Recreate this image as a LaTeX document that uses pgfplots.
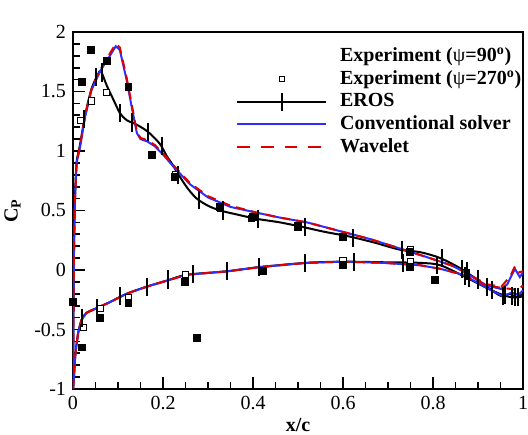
\documentclass[border=0pt]{standalone}
\usepackage{fontspec}
\setmainfont{Liberation Serif}
\usepackage{pgfplots}
\pgfplotsset{compat=1.18}
\definecolor{cblue}{RGB}{45,45,255}
\definecolor{cred}{RGB}{220,0,0}
\begin{document}
\fontsize{11}{13}\selectfont
\begin{tikzpicture}
\begin{axis}[
 scale only axis, width=247.5pt, height=196.35pt,
 xmin=0, xmax=1, ymin=-1, ymax=2,
 xtick={0,0.2,0.4,0.6,0.8,1}, xticklabels={0,0.2,0.4,0.6,0.8,1},
 ytick={-1,-0.5,0,0.5,1,1.5,2}, yticklabels={-1,-0.5,0,0.5,1,1.5,2},
 minor x tick num=3, minor y tick num=4,
 tick align=inside, xtick pos=bottom, ytick pos=left,
 major tick length=6.6pt, minor tick length=3.8pt,
 every tick/.style={black, line width=0.9pt},
 axis line style={line width=1.1pt},
 xlabel={\textbf{x/c}}, ylabel={\textbf{C\textsubscript{P}}},
 xlabel style={yshift=3pt},
 legend style={draw=none, fill=none, at={(0.35,0.977)}, anchor=north west,
   font=\bfseries, row sep=-0.7pt, cells={anchor=west},
   /tikz/every odd column/.append style={column sep=5pt}},
 legend cell align=left,
 legend image code/.code={\draw[mark repeat=2,mark phase=2,#1] plot coordinates {(0pt,0pt) (24.5pt,0pt) (49pt,0pt)};},
]
\addlegendimage{empty legend}
\addlegendentry{Experiment ({\mdseries ψ}=90\textsuperscript{o})}
\addlegendimage{only marks, mark=square, mark size=1.4pt, mark options={black, line width=0.5pt}}
\addlegendentry{Experiment ({\mdseries ψ}=270\textsuperscript{o})}
\addlegendimage{black, line width=1.1pt, mark=|, mark size=5pt}
\addlegendentry{EROS}
\addlegendimage{cblue, line width=1.1pt}
\addlegendentry{Conventional solver}
\addlegendimage{cred, line width=1.1pt, dash pattern=on 7pt off 6pt}
\addlegendentry{Wavelet}

% Experiment psi=270 (open squares)
\addplot[forget plot, only marks, mark=square*, mark size=1.7pt, mark options={fill=white, draw=black, line width=0.5pt}] coordinates {
(0.017,1.26) (0.041,1.42) (0.075,1.49) (0.227,0.80) (0.327,0.52) (0.397,0.43) (0.50,0.37) (0.749,0.17)
(0.023,-0.48) (0.06,-0.32) (0.123,-0.23) (0.249,-0.04) (0.60,0.08) (0.749,0.07)
};

% EROS upper
\addplot[forget plot, black, line width=1.1pt, smooth] coordinates {
(0,-1.0) (0.002,0.1) (0.004,0.55) (0.008,0.9) (0.016,1.06) (0.027,1.3) (0.041,1.52) (0.055,1.64) (0.062,1.67)
(0.075,1.55) (0.09,1.43) (0.104,1.32) (0.119,1.26) (0.142,1.22) (0.167,1.16) (0.193,1.06) (0.208,0.96)
(0.222,0.88) (0.238,0.78) (0.256,0.68) (0.275,0.60) (0.30,0.54) (0.327,0.50) (0.36,0.47) (0.408,0.43)
(0.46,0.40) (0.512,0.36) (0.56,0.32) (0.616,0.28) (0.67,0.23) (0.727,0.17) (0.771,0.15) (0.816,0.10)
(0.867,0.00) (0.919,-0.14) (0.952,-0.22) (0.971,-0.20) (0.985,-0.23) (1.0,-0.22)
};
% EROS lower
\addplot[forget plot, black, line width=1.1pt, smooth] coordinates {
(0,-1.0) (0.002,-0.9) (0.005,-0.72) (0.008,-0.62) (0.012,-0.52) (0.019,-0.42) (0.03,-0.36) (0.053,-0.32)
(0.082,-0.27) (0.119,-0.20) (0.164,-0.14) (0.208,-0.09) (0.253,-0.04) (0.34,-0.012) (0.416,0.025)
(0.519,0.06) (0.60,0.07) (0.69,0.065) (0.771,0.06) (0.816,0.04) (0.867,-0.05) (0.919,-0.15) (0.955,-0.21)
(0.98,-0.23) (1.0,-0.2)
};
% EROS bar marks
\addplot[forget plot, only marks, mark=|, mark size=5pt, mark options={black, line width=1.1pt}] coordinates {
(0.025,1.27) (0.05,1.62) (0.064,1.66) (0.104,1.32) (0.13,1.24) (0.167,1.16) (0.197,1.04) (0.233,0.80)
(0.279,0.59) (0.333,0.50) (0.41,0.43) (0.516,0.36) (0.623,0.27) (0.73,0.17) (0.819,0.10) (0.864,0.01)
(0.875,-0.01) (0.90,-0.08) (0.92,-0.14) (0.956,-0.22) (0.982,-0.23) (0.988,-0.23)
(0.021,-0.40) (0.053,-0.32) (0.104,-0.22) (0.165,-0.14) (0.212,-0.08) (0.267,-0.035) (0.342,-0.01)
(0.414,0.025) (0.516,0.06) (0.624,0.07) (0.734,0.06) (0.808,0.045) (0.87,-0.05) (0.88,-0.07) (0.93,-0.17)
(0.96,-0.21) (0.975,-0.22)
};

% Conventional upper
\addplot[forget plot, cblue, line width=1.1pt] coordinates {
(0,-1.0) (0.001,-0.4) (0.002,0.1) (0.004,0.55) (0.008,0.90) (0.016,1.04) (0.027,1.29) (0.041,1.51)
(0.06,1.67) (0.082,1.80) (0.095,1.88) (0.104,1.85) (0.119,1.60) (0.13,1.38) (0.142,1.15) (0.15,1.10)
(0.165,1.08) (0.182,1.04) (0.2,0.97) (0.223,0.87) (0.26,0.72) (0.30,0.61) (0.35,0.53) (0.41,0.48)
(0.46,0.44) (0.52,0.40) (0.6,0.32) (0.66,0.26) (0.727,0.18) (0.793,0.10) (0.84,0.04) (0.867,-0.01)
(0.919,-0.13) (0.952,-0.16) (0.965,-0.12) (0.982,0.01) (0.993,-0.06) (1.0,-0.02)
};
% Conventional lower
\addplot[forget plot, cblue, line width=1.1pt] coordinates {
(0,-1.0) (0.002,-0.9) (0.005,-0.72) (0.008,-0.62) (0.012,-0.52) (0.019,-0.42) (0.03,-0.36) (0.053,-0.32)
(0.082,-0.27) (0.119,-0.20) (0.164,-0.14) (0.208,-0.09) (0.253,-0.04) (0.34,-0.012) (0.416,0.025)
(0.519,0.06) (0.60,0.07) (0.69,0.06) (0.771,0.04) (0.816,0.01) (0.867,-0.04) (0.919,-0.15) (0.955,-0.22)
(0.975,-0.19) (0.99,-0.21) (1.0,-0.17)
};
% Wavelet upper
\addplot[forget plot, cred, line width=1.1pt, dash pattern=on 5pt off 3.5pt] coordinates {
(0,-1.0) (0.001,-0.4) (0.002,0.1) (0.004,0.55) (0.008,0.90) (0.016,1.05) (0.027,1.30) (0.041,1.52)
(0.06,1.68) (0.082,1.82) (0.095,1.90) (0.104,1.87) (0.119,1.62) (0.13,1.40) (0.142,1.16) (0.15,1.11)
(0.165,1.09) (0.182,1.05) (0.2,0.98) (0.223,0.88) (0.26,0.73) (0.30,0.62) (0.35,0.54) (0.41,0.48)
(0.46,0.44) (0.52,0.40) (0.6,0.32) (0.66,0.26) (0.727,0.18) (0.793,0.10) (0.84,0.04) (0.867,-0.01)
(0.919,-0.12) (0.952,-0.14) (0.972,-0.05) (0.982,0.03) (0.992,-0.02) (1.0,-0.01)
};
% Wavelet lower
\addplot[forget plot, cred, line width=1.1pt, dash pattern=on 5pt off 3.5pt] coordinates {
(0,-1.0) (0.002,-0.9) (0.005,-0.72) (0.008,-0.62) (0.012,-0.52) (0.019,-0.42) (0.03,-0.36) (0.053,-0.32)
(0.082,-0.27) (0.119,-0.20) (0.164,-0.14) (0.208,-0.09) (0.253,-0.04) (0.34,-0.012) (0.416,0.025)
(0.519,0.06) (0.60,0.07) (0.69,0.06) (0.771,0.04) (0.816,0.01) (0.867,-0.04) (0.919,-0.13) (0.952,-0.15)
(0.975,-0.16) (0.988,-0.17) (1.0,-0.13)
};

% Experiment psi=90 (filled squares)
\addplot[forget plot, only marks, mark=square*, mark size=1.9pt, mark options={fill=black, draw=black}] coordinates {
(0.019,1.58) (0.039,1.85) (0.076,1.76) (0.123,1.54) (0.175,0.97) (0.227,0.78) (0.327,0.53) (0.40,0.45)
(0.50,0.36) (0.60,0.28) (0.749,0.15)
(0.0,-0.27) (0.019,-0.65) (0.059,-0.40) (0.123,-0.28) (0.249,-0.10) (0.275,-0.57) (0.423,-0.01)
(0.60,0.04) (0.749,0.03) (0.804,-0.08)
};

\node[anchor=base east, font=\bfseries, xshift=-2pt, yshift=6pt] at (rel axis cs:1,1) {y/R=0.915};
\end{axis}
\pgfresetboundingbox
\path ([shift={(-40.15pt,-25.3pt)}]current axis.south west) rectangle ([shift={(2.75pt,17.6pt)}]current axis.north east);
\end{tikzpicture}
\end{document}
